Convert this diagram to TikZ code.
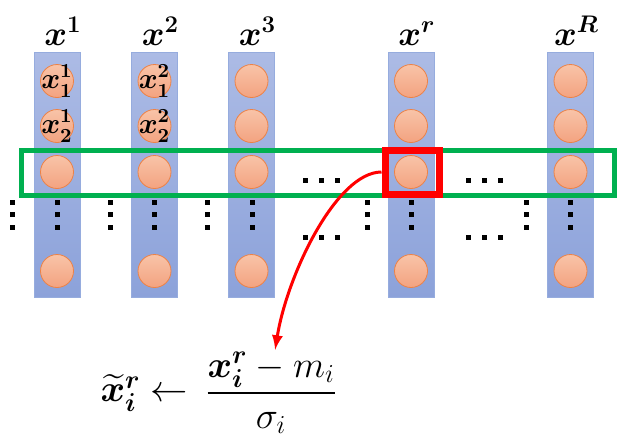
\documentclass[tikz,border=0pt]{standalone}
\usepackage{amsmath}
\usepackage{bm}
\usepackage{tikz}
\usetikzlibrary{shapes,arrows}
\definecolor{colTop}{RGB}{172,187,229}
\definecolor{colBot}{RGB}{140,162,218}
\definecolor{colLine}{RGB}{150,172,222}
\definecolor{unitTop}{RGB}{248,195,168}
\definecolor{unitBot}{RGB}{243,162,128}
\definecolor{unitLine}{RGB}{237,130,70}
\definecolor{rowGreen}{RGB}{0,176,80}
\tikzstyle{column} = [draw=colLine, top color=colTop, bottom color=colBot, rectangle, minimum width=23pt, minimum height=122.5pt, inner sep=0pt]
\tikzstyle{unit} = [circle, draw=unitLine, top color=unitTop, bottom color=unitBot, minimum size=16.5pt, inner sep=0pt]
\tikzstyle{unitlabel} = [font=\Large\boldmath, inner sep=0pt]
\tikzstyle{dot} = [fill=black]

\begin{document}
\begin{tikzpicture}[x=0.5pt,y=-0.5pt]
	\useasboundingbox (0,0) rectangle (627,441);
	% columns with their units
	\foreach \name/\cx in {1/57,2/154.5,3/251.5,r/411,R/570.5} {
		\node[column] (col\name) at (\cx,174.5) {};
		\foreach \row/\cy in {1/81,2/126,3/172,4/271}
			\node[unit] (u\name\row) at (\cx,\cy) {};
		\node[anchor=base,font=\LARGE\boldmath] (lab\name) at (\cx+6,45) {$x^{\name}$};
	}
	\node[unitlabel] (t11) at (u11) {$x^1_1$};
	\node[unitlabel] (t12) at (u12) {$x^1_2$};
	\node[unitlabel] (t21) at (u21) {$x^2_1$};
	\node[unitlabel] (t22) at (u22) {$x^2_2$};
	% dots
	\foreach \dx in {12,57,110,154,207,252,367,411,526,570}
		\foreach \dy in {202,214,227}
			\fill[dot] (\dx-2.5,\dy-2.5) rectangle +(5,5);
	\foreach \dx in {305,321,337,468,484,500}
		\foreach \dy in {180,237}
			\fill[dot] (\dx-2.5,\dy-2.5) rectangle +(5,5);
	% selected row and unit
	\node[draw=rowGreen,line width=2.5pt,minimum width=296.5pt,minimum height=22.5pt,inner sep=0pt] (row) at (317.5,172.5) {};
	\node[draw=red,line width=3.5pt,minimum width=27pt,minimum height=22pt,inner sep=0pt] (sel) at (412,172) {};
	% normalization
	\node[font=\huge,scale=0.9,anchor=west] (frac) at (199,393) {$\dfrac{\bm{x_i^r} - m_i}{\sigma_i}$};
	\node[font=\huge,scale=0.9,anchor=east,inner sep=0pt] (lhs) at (frac.west) {$\bm{\widetilde{x}_i^r} \leftarrow\;$};
	\path[red,line width=1.5pt,-latex,draw] (sel.west) .. controls +(-45,0) and +(12,-75) .. ([xshift=2pt,yshift=-2pt]frac.north);
\end{tikzpicture}
\end{document}
